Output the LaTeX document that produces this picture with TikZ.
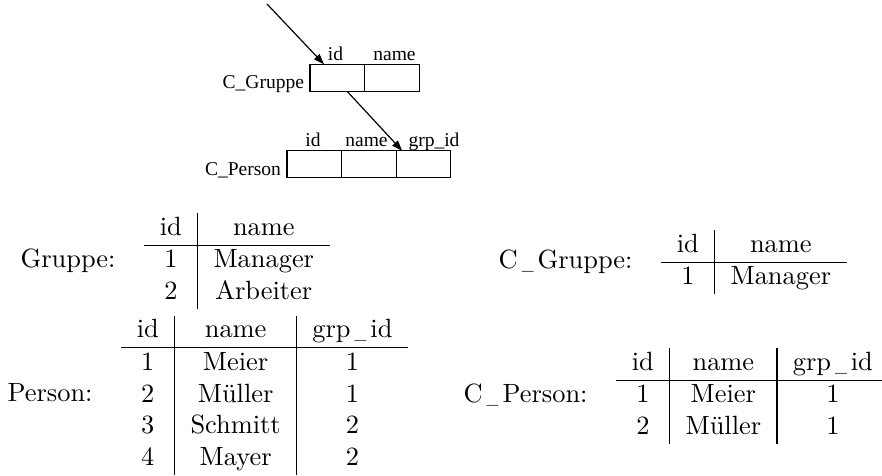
\documentclass[tikz,border=0pt]{standalone}
\usepackage{fontspec}
\usepackage{graphicx}
\newfontfamily\figfont{Liberation Serif}
\usetikzlibrary{arrows.meta,calc}
% narrower underscore keeping the normal advance width
\newlength\uswd
\newcommand\us{\settowidth\uswd{\_}\makebox[\uswd][c]{\scalebox{0.6}[1]{\_}}}
\begin{document}
\begin{tikzpicture}[x=0.3788pt,y=-0.3788pt,
  tab/.style={inner sep=0pt,outer sep=0pt},
  lbl/.style={anchor=base east,inner sep=0pt,outer sep=0pt},
  cellbox/.style={draw,line width=0.45pt,minimum width=54.6*0.3788pt,
    minimum height=27*0.3788pt,inner sep=0pt,outer sep=0pt},
  fld/.style={anchor=base,inner sep=0pt,outer sep=0pt,
    font={\figfont\fontsize{7.4}{9}\selectfont}},
  ref/.style={-{Triangle[length=4pt,width=2.8pt]},line width=0.45pt}]
\useasboundingbox (0,0) rectangle (882,475);

% ---- schema: C_Gruppe ----
\node[cellbox] (cg1) at (337.3,77.8) {};
\node[cellbox] (cg2) at (391.9,77.8) {};
\node[fld] (cgh1) at (335.5,60.5) {id};
\node[fld] (cgh2) at (394.5,60.5) {name};
\node[fld,anchor=base east] (cgname) at (304,88) {C\_Gruppe};

% ---- schema: C_Person ----
\node[cellbox] (cp1) at (314.3,164.3) {};
\node[cellbox] (cp2) at (368.9,164.3) {};
\node[cellbox] (cp3) at (423.5,164.3) {};
\node[fld] (cph1) at (313,146.5) {id};
\node[fld] (cph2) at (366.5,146.5) {name};
\node[fld] (cph3) at (434,146.5) {grp\_id};
\node[fld,anchor=base east] (cpname) at (281,175) {C\_Person};

% ---- references ----
\coordinate (src) at (267,4);
\draw[ref] (src) -- ($(cg1.north west)!0.257!(cg1.north east)$);
\draw[ref] ($(cg1.south west)!0.68!(cg1.south east)$) --
  ($(cp3.north west)!0.11!(cp3.north east)$);

% ---- relation instances ----
\node[tab,anchor=north west] (tg) at (144,213) {%
  \begin{tabular}{c|c}
  id & name\\ \hline
  1 & Manager\\
  2 & Arbeiter
  \end{tabular}};
\node[lbl] (tgl) at ($(tg.west)+(-28.5,6.6)$) {Gruppe:};

\node[tab,anchor=north west] (tp) at (121,315.5) {%
  \begin{tabular}{c|c|c}
  id & name & grp\us id\\ \hline
  1 & Meier & 1\\
  2 & Müller & 1\\
  3 & Schmitt & 2\\
  4 & Mayer & 2
  \end{tabular}};
\node[lbl] (tpl) at ($(tp.west)+(-28.5,6.6)$) {Person:};

\node[tab,anchor=north west] (tcg) at (661,230) {%
  \begin{tabular}{c|c}
  id & name\\ \hline
  1 & Manager
  \end{tabular}};
\node[lbl] (tcgl) at ($(tcg.west)+(-28.5,6.6)$) {C\us Gruppe:};

\node[tab,anchor=north west] (tcp) at (616,348) {%
  \begin{tabular}{c|c|c}
  id & name & grp\us id\\ \hline
  1 & Meier & 1\\
  2 & Müller & 1
  \end{tabular}};
\node[lbl] (tcpl) at ($(tcp.west)+(-28.5,6.6)$) {C\us Person:};
\end{tikzpicture}
\end{document}
